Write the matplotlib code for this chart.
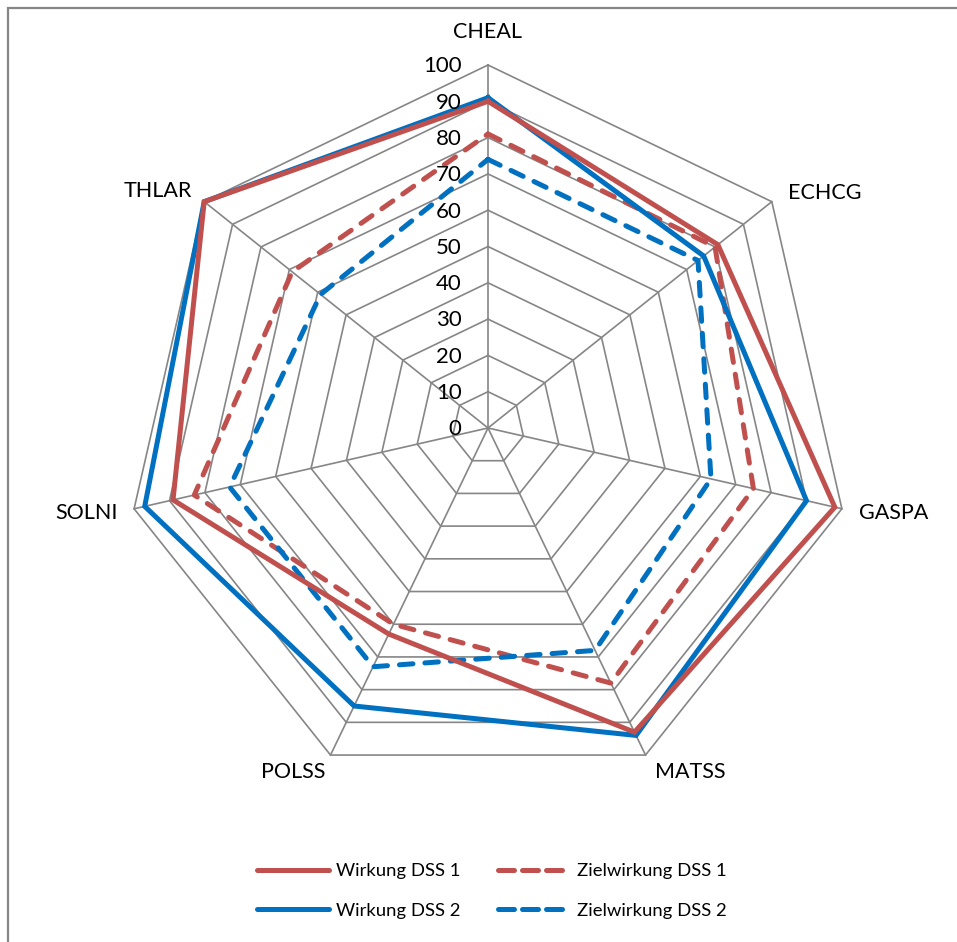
import numpy as np
import matplotlib
matplotlib.use("Agg")
import matplotlib.pyplot as plt
from matplotlib.lines import Line2D
from matplotlib.patches import Rectangle

plt.rcParams['font.family'] = ['Lato', 'DejaVu Sans']

# Weed species (EPPO codes) around the radar
categories = ["CHEAL", "ECHCG", "GASPA", "MATSS", "POLSS", "SOLNI", "THLAR"]

# Efficacy values in percent
wirkung_dss1 = [90, 81, 98, 93, 63, 89, 100]
ziel_dss1 = [81, 80, 75, 78, 60, 83, 69]
wirkung_dss2 = [91, 76, 90, 94, 85, 97, 100]
ziel_dss2 = [74, 74, 63, 68, 73, 73, 59]

ring_levels = [0, 10, 20, 30, 40, 50, 60, 70, 80, 90, 100]

RED = "#C0504D"
BLUE = "#0070C0"
GRID = "#868686"

W, H = 957, 942
fig = plt.figure(figsize=(W / 100, H / 100), dpi=100)

cx, cy, R = 488, 428, 363
ax = fig.add_axes([(cx - R) / W, (H - cy - R) / H, 2 * R / W, 2 * R / H],
                  projection="polar")
ax.set_theta_offset(np.pi / 2)
ax.set_theta_direction(-1)
ax.set_ylim(0, 100)
ax.grid(False)
ax.set_xticks([])
ax.set_yticks([])
ax.spines["polar"].set_visible(False)
ax.patch.set_visible(False)

n = len(categories)
theta = np.arange(n) * 2 * np.pi / n
theta_closed = np.append(theta, theta[0])

# polygonal grid rings and spokes
for lvl in ring_levels[1:]:
    ax.plot(theta_closed, [lvl] * (n + 1), color=GRID, lw=1.2, zorder=1,
            clip_on=False)
for t in theta:
    ax.plot([t, t], [0, 100], color=GRID, lw=1.2, zorder=1, clip_on=False)

def closed(vals):
    return list(vals) + [vals[0]]

dash = (0, (2.7, 2.4))
lw = 3.6
ax.plot(theta_closed, closed(wirkung_dss1), color=RED, lw=lw, zorder=4,
        solid_joinstyle="miter", clip_on=False)
ax.plot(theta_closed, closed(ziel_dss1), color=RED, lw=lw, ls=dash,
        dash_capstyle="round", zorder=3, clip_on=False)
ax.plot(theta_closed, closed(wirkung_dss2), color=BLUE, lw=lw, zorder=3,
        solid_joinstyle="miter", clip_on=False)
ax.plot(theta_closed, closed(ziel_dss2), color=BLUE, lw=lw, ls=dash,
        dash_capstyle="round", zorder=3, clip_on=False)

# radial value labels along the first spoke
for lvl in ring_levels:
    ax.annotate(str(lvl), xy=(0, lvl), xytext=(-19, -1), textcoords="offset points",
                ha="right", va="center", fontsize=16, color="black")

# category labels outside the outer ring
label_offsets = {
    "CHEAL": (0, 24, "center", "center"),
    "ECHCG": (12, 6, "left", "center"),
    "GASPA": (12, -3, "left", "center"),
    "MATSS": (7, -12, "left", "center"),
    "POLSS": (-4, -12, "right", "center"),
    "SOLNI": (-12, -3, "right", "center"),
    "THLAR": (-9, 8, "right", "center"),
}
for t, name in zip(theta, categories):
    dx, dy, ha, va = label_offsets[name]
    ax.annotate(name, xy=(t, 100), xytext=(dx, dy), textcoords="offset points",
                ha=ha, va=va, fontsize=15.5, color="black", annotation_clip=False)

handles = [
    Line2D([], [], color=RED, lw=lw, solid_capstyle="round"),
    Line2D([], [], color=BLUE, lw=lw, solid_capstyle="round"),
    Line2D([], [], color=RED, lw=lw, ls=(0, (3.2, 1.6)), dash_capstyle="round"),
    Line2D([], [], color=BLUE, lw=lw, ls=(0, (3.2, 1.6)), dash_capstyle="round"),
]
labels = ["Wirkung DSS 1", "Wirkung DSS 2", "Zielwirkung DSS 1", "Zielwirkung DSS 2"]
fig.legend(handles, labels, ncol=2, frameon=False, fontsize=13.3,
           loc="center", bbox_to_anchor=(492 / W, 1 - 891 / H),
           handlelength=3.9, handletextpad=0.4, columnspacing=2.0,
           labelspacing=1.25)

# outer chart frame (top and left edges visible)
fig.patches.append(Rectangle((8 / W, -0.05), 1.2, 1 - 7.5 / H + 0.05,
                             transform=fig.transFigure, fill=False,
                             edgecolor=GRID, lw=1.6, zorder=0))

fig.savefig("out.png", dpi=100)
